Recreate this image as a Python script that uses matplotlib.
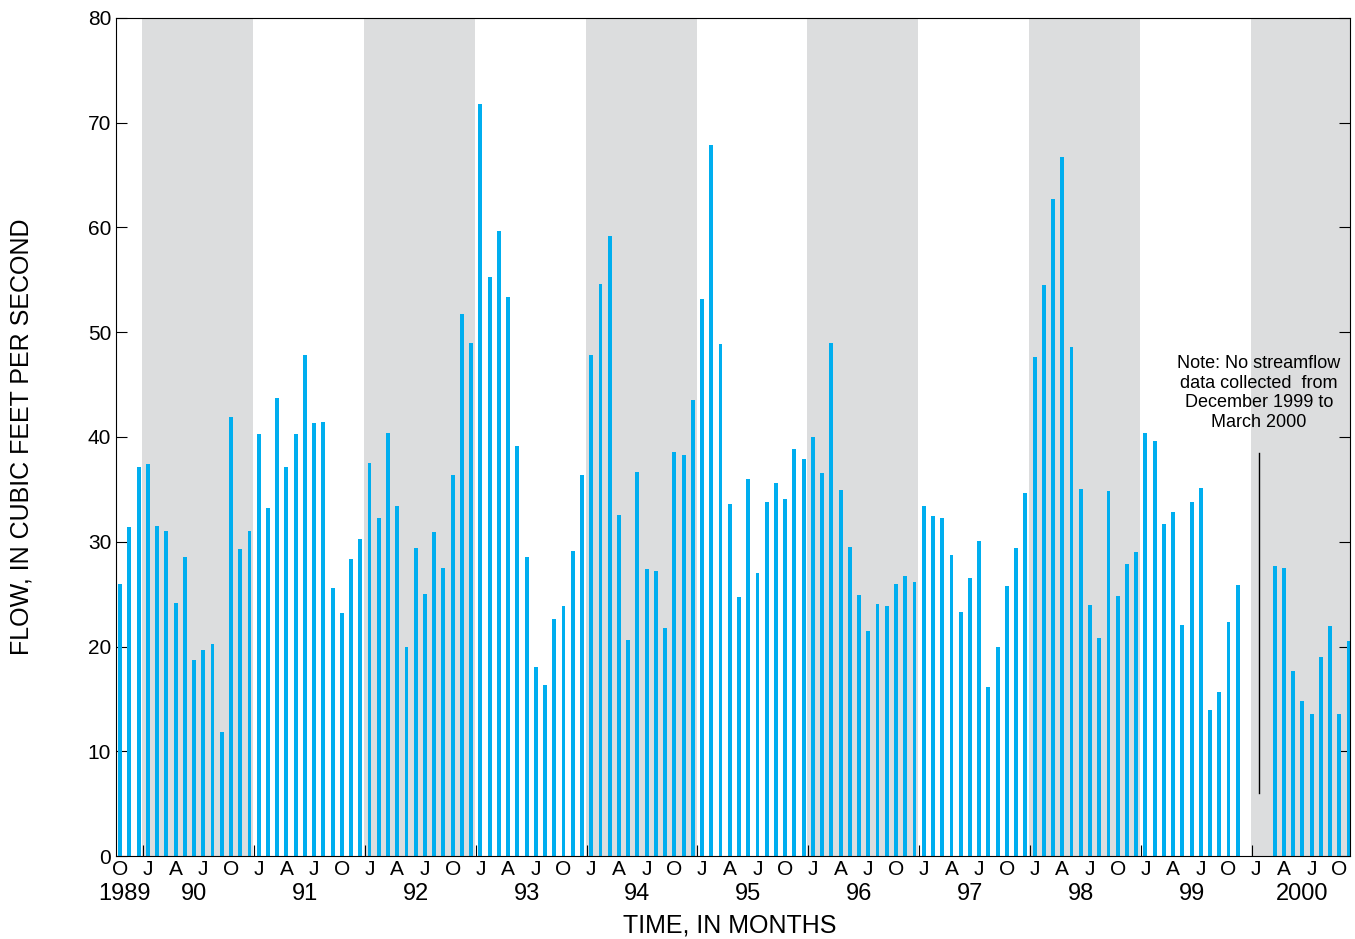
import numpy as np
import matplotlib.pyplot as plt
from matplotlib.transforms import blended_transform_factory

plt.rcParams["font.family"] = ["Liberation Sans", "DejaVu Sans"]

# 월별 유량 (1989년 10월 ~ 2000년 11월), 결측 = NaN
flow = [
    26.0, 31.4, 37.1,
    37.4, 31.5, 31.0, 24.2, 28.5, 18.7, 19.7, 20.2, 11.8, 41.9, 29.3, 31.0,
    40.3, 33.2, 43.7, 37.1, 40.3, 47.8, 41.3, 41.4, 25.6, 23.2, 28.4, 30.3,
    37.5, 32.3, 40.4, 33.4, 20.0, 29.4, 25.0, 30.9, 27.5, 36.4, 51.7, 49.0,
    71.8, 55.3, 59.7, 53.4, 39.1, 28.5, 18.0, 16.3, 22.6, 23.9, 29.1, 36.4,
    47.8, 54.6, 59.2, 32.6, 20.6, 36.7, 27.4, 27.2, 21.8, 38.6, 38.3, 43.5,
    53.2, 67.9, 48.9, 33.6, 24.7, 36.0, 27.0, 33.8, 35.6, 34.1, 38.9, 37.9,
    40.0, 36.6, 49.0, 34.9, 29.5, 24.9, 21.5, 24.1, 23.9, 26.0, 26.7, 26.2,
    33.4, 32.5, 32.3, 28.7, 23.3, 26.5, 30.1, 16.1, 20.0, 25.8, 29.4, 34.7,
    47.6, 54.5, 62.7, 66.7, 48.6, 35.0, 24.0, 20.8, 34.8, 24.8, 27.9, 29.0,
    40.4, 39.6, 31.7, 32.8, 22.1, 33.8, 35.1, 13.9, 15.7, 22.3, 25.9, np.nan,
    np.nan, np.nan, 27.7, 27.5, 17.7, 14.8, 13.6, 19.0, 22.0, 13.6, 20.5,
]
shaded_years = [1990, 1992, 1994, 1996, 1998, 2000]
year_labels = ["1989", "90", "91", "92", "93", "94", "95", "96", "97", "98", "99", "2000"]
quarter_letters = ["J", "A", "J", "O"]

x = np.arange(len(flow))


def year_start(y):
    # 1990년 1월의 인덱스 = 3
    return 3 + (y - 1990) * 12


fig = plt.figure(figsize=(13.55, 9.39), dpi=100)
ax = fig.add_axes([116 / 1355, 1 - 856 / 939, (1350 - 116) / 1355, (856 - 18) / 939])

for y in shaded_years:
    ax.axvspan(year_start(y) - 0.6, year_start(y) + 11.4, color="#dcddde", lw=0, zorder=0)

ax.bar(x, flow, width=0.42, color="#00aeef", zorder=2)

ax.set_xlim(-0.45, 133.15)
ax.set_ylim(0, 80)
ax.set_yticks(range(0, 81, 10))
ax.tick_params(axis="y", direction="in", right=True, labelsize=15, length=8)

# 연도 경계 눈금
ax.set_xticks([year_start(y) - 0.5 for y in range(1990, 2001)])
ax.set_xticklabels([])
ax.tick_params(axis="x", direction="in", length=8)

tr = blended_transform_factory(ax.transData, ax.transAxes)
# 분기 글자
ax.text(0, -0.005, "O", transform=tr, ha="center", va="top", fontsize=15)
for i in range(3, len(flow), 3):
    ax.text(i, -0.005, quarter_letters[(i // 3 - 1) % 4], transform=tr,
            ha="center", va="top", fontsize=15)
# 연도 라벨
ax.text(0.5, -0.032, year_labels[0], transform=tr, ha="center", va="top", fontsize=17)
for k, lab in enumerate(year_labels[1:]):
    ys = year_start(1990 + k)
    ax.text(ys + 5, -0.032, lab, transform=tr, ha="center", va="top", fontsize=17)

# 축 제목
fig.text(22 / 1355, 1 - 437 / 939, "FLOW, IN CUBIC FEET PER SECOND", rotation=90,
         ha="center", va="center", fontsize=18)
fig.text(730 / 1355, 1 - 925 / 939, "TIME, IN MONTHS", ha="center", va="center", fontsize=18)

# 결측 구간 주석
ax.plot([123.3, 123.3], [6, 38.5], color="black", lw=1, zorder=3)
ax.text(123.3, 44.2, "Note: No streamflow\ndata collected  from\nDecember 1999 to\nMarch 2000",
        ha="center", va="center", fontsize=13, linespacing=1.2)

fig.savefig("out.png", dpi=100)
